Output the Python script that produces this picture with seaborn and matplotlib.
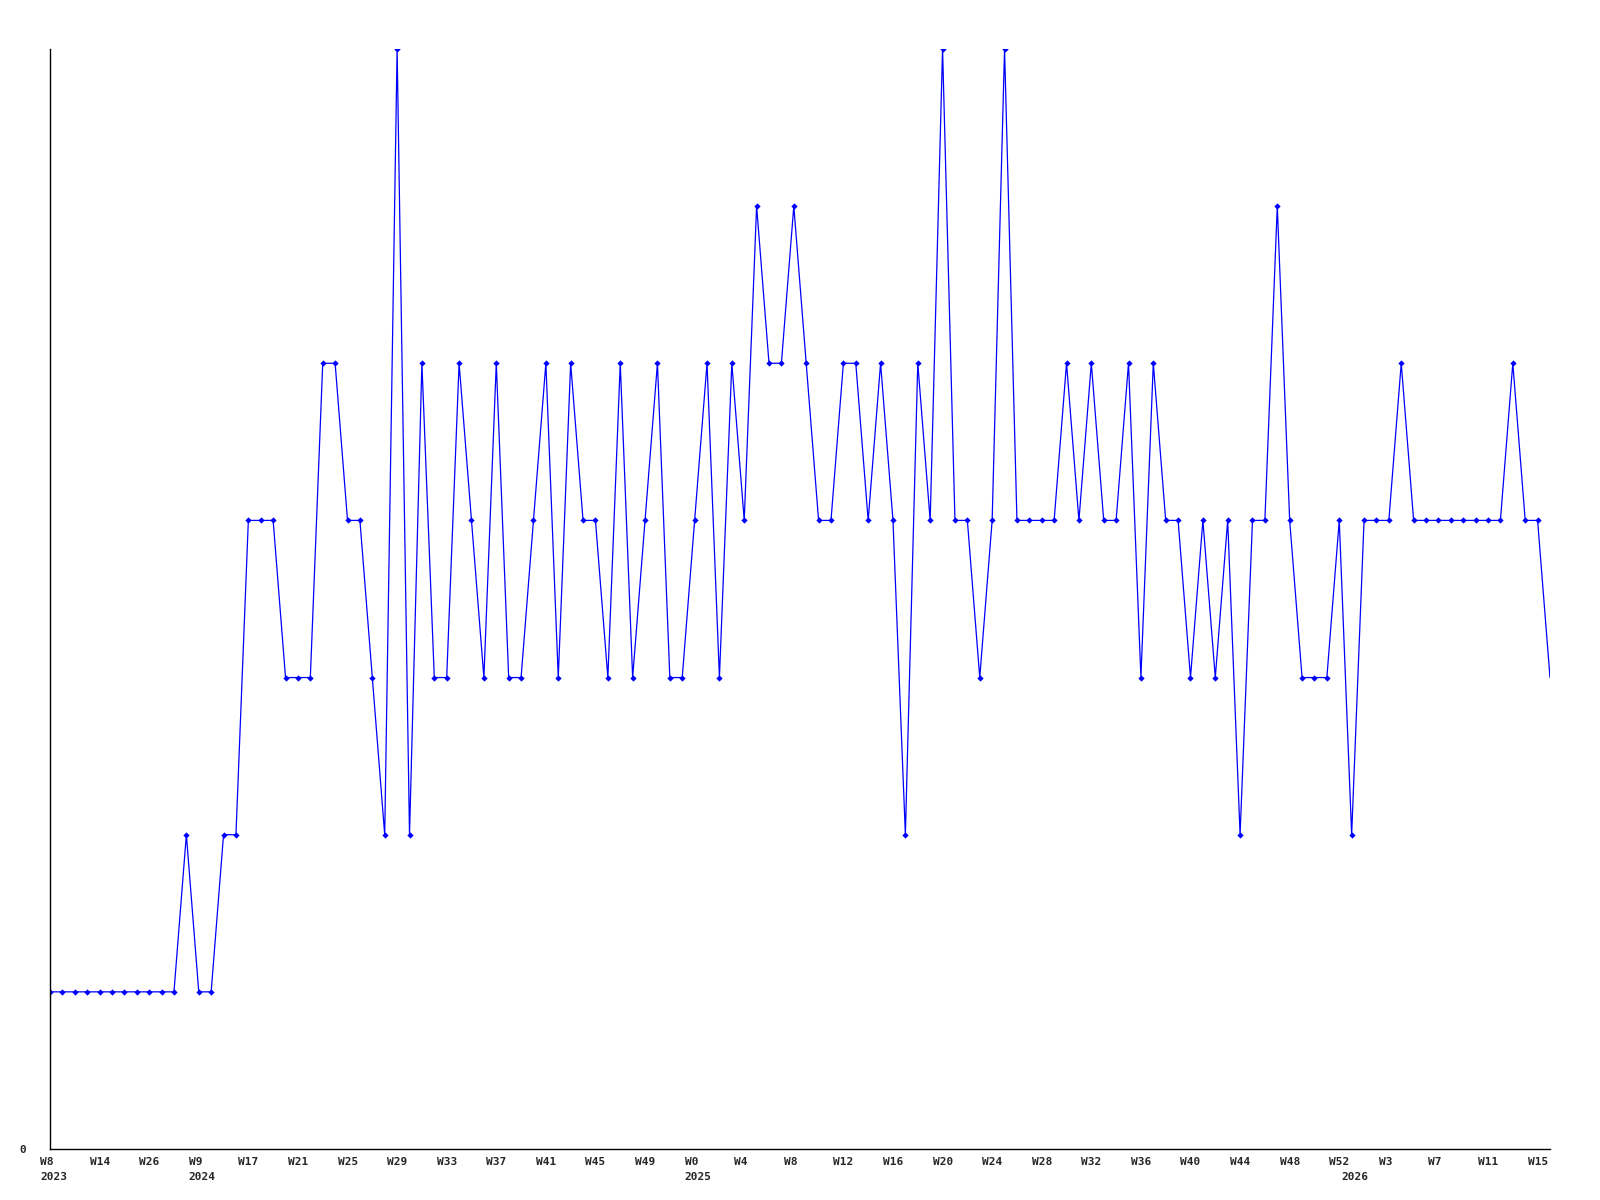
import matplotlib
matplotlib.use('Agg')
import matplotlib.pyplot as plt
from matplotlib.transforms import ScaledTranslation
import seaborn as sns
import pandas as pd

# valores semanales
valores = [1, 1, 1, 1, 1, 1, 1, 1, 1, 1, 1, 2, 1, 1, 2, 2, 4, 4, 4, 3,
           3, 3, 5, 5, 4, 4, 3, 2, 7, 2, 5, 3, 3, 5, 4, 3, 5, 3, 3, 4,
           5, 3, 5, 4, 4, 3, 5, 3, 4, 5, 3, 3, 4, 5, 3, 5, 4, 6, 5, 5,
           6, 5, 4, 4, 5, 5, 4, 5, 4, 2, 5, 4, 7, 4, 4, 3, 4, 7, 4, 4,
           4, 4, 5, 4, 5, 4, 4, 5, 3, 5, 4, 4, 3, 4, 3, 4, 2, 4, 4, 6,
           4, 3, 3, 3, 4, 2, 4, 4, 4, 5, 4, 4, 4, 4, 4, 4, 4, 4, 5, 4,
           4, 3]

semanas = ['W8\n2023', 'W14', 'W26', 'W9\n2024', 'W17', 'W21', 'W25', 'W29',
           'W33', 'W37', 'W41', 'W45', 'W49', 'W0\n2025', 'W4', 'W8', 'W12',
           'W16', 'W20', 'W24', 'W28', 'W32', 'W36', 'W40', 'W44', 'W48',
           'W52', 'W3', 'W7', 'W11', 'W15']
paso_semanas = 4

anio_extra = ['2026']
pos_anio_extra = [105]

interlineado = 1.7


def dibujar():
    sns.set_style('white')
    plt.rcParams['font.family'] = ['DejaVu Sans Mono']

    fig = plt.figure(figsize=(16, 12), dpi=100)
    ax = fig.add_axes([0.03125, 0.0425, 0.9375, 0.9167])

    df = pd.DataFrame({'x': range(len(valores)), 'y': valores})
    sns.lineplot(data=df, x='x', y='y', color='#0000ff', linewidth=0.9,
                 marker='D', markersize=3.2, markeredgewidth=0,
                 markevery=list(range(len(valores) - 1)), ax=ax)

    ax.set_xlim(0, len(valores) - 1)
    ax.set_ylim(0, 7)
    ax.set_xlabel('')
    ax.set_ylabel('')

    # primero los parametros de los ticks, porque rehacen las etiquetas
    ax.tick_params(axis='x', which='major', length=0, pad=5.5)
    ax.tick_params(axis='x', which='minor', length=0, pad=16.2)
    ax.tick_params(axis='y', length=0, pad=17)

    ax.xaxis.remove_overlapping_locs = False
    ax.set_xticks(range(0, len(semanas) * paso_semanas, paso_semanas))
    ax.set_xticklabels(semanas, ha='left', fontsize=8, fontweight='bold',
                       linespacing=interlineado)
    ax.set_xticks(pos_anio_extra, minor=True)
    ax.set_xticklabels(anio_extra, minor=True, ha='left', fontsize=8,
                       fontweight='bold')

    # las etiquetas empiezan 10 px a la izquierda de cada punto
    desplaza = ScaledTranslation(-10 / 100, 0, fig.dpi_scale_trans)
    ticks = ax.xaxis.get_major_ticks() + ax.xaxis.get_minor_ticks()
    for t in ticks:
        t.label1.set_transform(t.label1.get_transform() + desplaza)

    ax.set_yticks([0])
    ax.set_yticklabels(['0'], fontsize=8, fontweight='bold')

    sns.despine(ax=ax)
    for lado in ['left', 'bottom']:
        ax.spines[lado].set_color('black')
        ax.spines[lado].set_linewidth(1.0)

    fig.savefig('out.png', dpi=100)


if __name__ == "__main__":
    dibujar()
